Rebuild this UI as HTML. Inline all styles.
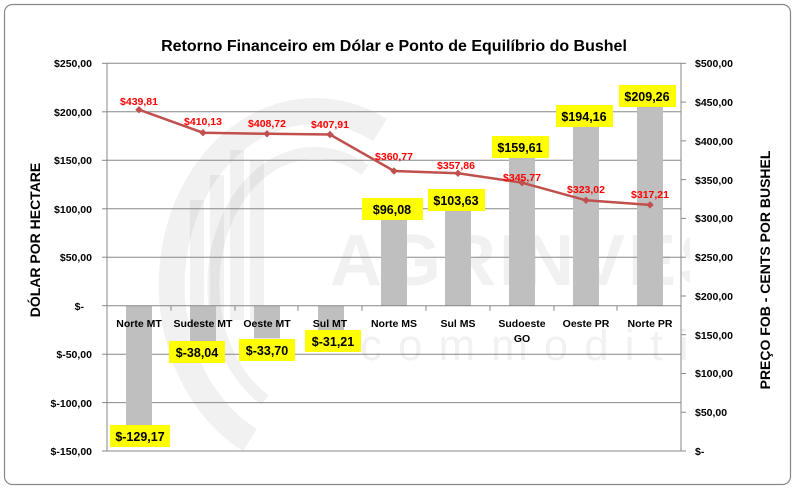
<!DOCTYPE html>
<html><head><meta charset="utf-8"><style>
html,body{margin:0;padding:0;background:#fff;}
svg{display:block;font-family:"Liberation Sans",Calibri,sans-serif;}
</style></head><body>
<svg width="799" height="491" viewBox="0 0 799 491" xmlns="http://www.w3.org/2000/svg">
<defs><clipPath id="c"><rect x="100" y="60" width="590" height="400"/></clipPath></defs>
<rect x="0" y="0" width="799" height="491" fill="#fff"/>
<rect x="4.5" y="4.5" width="786" height="480" rx="8" fill="#fff" stroke="#888" stroke-width="1.2"/>
<!-- watermark -->
<g clip-path="url(#c)">
<g opacity="0.08" fill="none" stroke="#555">
<path d="M250 440 A140 170 0 1 1 380 130" stroke-width="26"/>
<path d="M265 400 A100 130 0 1 1 365 170" stroke-width="12"/>
</g>
<g opacity="0.08" fill="#555">
<rect x="190" y="200" width="14" height="120"/><rect x="210" y="175" width="14" height="145"/>
<rect x="230" y="150" width="14" height="170"/><rect x="250" y="160" width="14" height="160"/>
<text x="330" y="285" font-size="72" font-weight="bold" letter-spacing="3">AGRINVEST</text>
<text x="360" y="360" font-size="44" letter-spacing="16">commodities</text>
</g>
</g>
<!-- title -->
<text x="394" y="51" font-size="16" font-weight="bold" text-anchor="middle" fill="#000">Retorno Financeiro em Dólar e Ponto de Equilíbrio do Bushel</text>
<!-- gridlines -->
<g stroke="#888" stroke-width="1">
<line x1="107" y1="63.3" x2="681" y2="63.3"/>
<line x1="107" y1="111.8" x2="681" y2="111.8"/>
<line x1="107" y1="160.3" x2="681" y2="160.3"/>
<line x1="107" y1="208.8" x2="681" y2="208.8"/>
<line x1="107" y1="257.2" x2="681" y2="257.2"/>
<line x1="107" y1="354.2" x2="681" y2="354.2"/>
<line x1="107" y1="402.6" x2="681" y2="402.6"/>
<line x1="107" y1="451" x2="681" y2="451"/>
</g>
<!-- bars -->
<g fill="#bfbfbf">
<rect x="126" y="305.7" width="26" height="125.3"/>
<rect x="190" y="305.7" width="26" height="36.9"/>
<rect x="254" y="305.7" width="26" height="32.7"/>
<rect x="318" y="305.7" width="26" height="30.3"/>
<rect x="381" y="212.5" width="26" height="93.2"/>
<rect x="445" y="205.2" width="26" height="100.5"/>
<rect x="509" y="150.9" width="26" height="154.8"/>
<rect x="573" y="117.4" width="26" height="188.3"/>
<rect x="637" y="102.7" width="26" height="203"/>
</g>
<!-- axes -->
<g stroke="#888" stroke-width="1">
<line x1="107" y1="63.3" x2="107" y2="451"/>
<line x1="681" y1="63.3" x2="681" y2="451"/>
<line x1="107" y1="305.7" x2="681" y2="305.7"/>
<line x1="102" y1="63.3" x2="107" y2="63.3"/><line x1="102" y1="111.8" x2="107" y2="111.8"/>
<line x1="102" y1="160.3" x2="107" y2="160.3"/><line x1="102" y1="208.8" x2="107" y2="208.8"/>
<line x1="102" y1="257.2" x2="107" y2="257.2"/><line x1="102" y1="305.7" x2="107" y2="305.7"/>
<line x1="102" y1="354.2" x2="107" y2="354.2"/><line x1="102" y1="402.6" x2="107" y2="402.6"/>
<line x1="102" y1="451" x2="107" y2="451"/>
<line x1="681" y1="63.3" x2="686" y2="63.3"/><line x1="681" y1="102.1" x2="686" y2="102.1"/>
<line x1="681" y1="140.9" x2="686" y2="140.9"/><line x1="681" y1="179.6" x2="686" y2="179.6"/>
<line x1="681" y1="218.4" x2="686" y2="218.4"/><line x1="681" y1="257.2" x2="686" y2="257.2"/>
<line x1="681" y1="296" x2="686" y2="296"/><line x1="681" y1="334.7" x2="686" y2="334.7"/>
<line x1="681" y1="373.5" x2="686" y2="373.5"/><line x1="681" y1="412.2" x2="686" y2="412.2"/>
<line x1="681" y1="451" x2="686" y2="451"/>
<line x1="171" y1="305.7" x2="171" y2="310.7"/><line x1="235" y1="305.7" x2="235" y2="310.7"/>
<line x1="298" y1="305.7" x2="298" y2="310.7"/><line x1="362" y1="305.7" x2="362" y2="310.7"/>
<line x1="426" y1="305.7" x2="426" y2="310.7"/><line x1="490" y1="305.7" x2="490" y2="310.7"/>
<line x1="554" y1="305.7" x2="554" y2="310.7"/><line x1="617" y1="305.7" x2="617" y2="310.7"/>
</g>
<!-- left tick labels -->
<g font-size="10.5" font-weight="bold" text-anchor="end" fill="#000">
<text x="92" y="67">$250,00</text><text x="92" y="116">$200,00</text><text x="92" y="164">$150,00</text>
<text x="92" y="213">$100,00</text><text x="92" y="261">$50,00</text><text x="84" y="310">$-</text>
<text x="92" y="358">$-50,00</text><text x="92" y="407">$-100,00</text><text x="92" y="455">$-150,00</text>
</g>
<!-- right tick labels -->
<g font-size="10.5" font-weight="bold" fill="#000">
<text x="695" y="67">$500,00</text><text x="695" y="106">$450,00</text><text x="695" y="145">$400,00</text>
<text x="695" y="184">$350,00</text><text x="695" y="222">$300,00</text><text x="695" y="261">$250,00</text>
<text x="695" y="300">$200,00</text><text x="695" y="339">$150,00</text><text x="695" y="377">$100,00</text>
<text x="695" y="416">$50,00</text><text x="695" y="455">$-</text>
</g>
<!-- axis titles -->
<text transform="translate(40,240) rotate(-90)" font-size="14" font-weight="bold" text-anchor="middle">DÓLAR POR HECTARE</text>
<text transform="translate(770,270) rotate(-90)" font-size="14" font-weight="bold" text-anchor="middle">PREÇO FOB - CENTS POR BUSHEL</text>
<!-- category labels -->
<g font-size="10.5" font-weight="bold" text-anchor="middle">
<text x="139" y="327">Norte MT</text><text x="203" y="327">Sudeste MT</text><text x="267" y="327">Oeste MT</text>
<text x="330" y="327">Sul MT</text><text x="394" y="327">Norte MS</text><text x="458" y="327">Sul MS</text>
<text x="522" y="327">Sudoeste</text><text x="522" y="342">GO</text><text x="586" y="327">Oeste PR</text><text x="650" y="327">Norte PR</text>
</g>
<!-- line -->
<polyline fill="none" stroke="#c0504d" stroke-width="2.5" points="139,109.7 203,132.7 267,133.8 330,134.5 394,171 458,173.3 522,182.7 586,200.3 650,204.9"/>
<g fill="#c0504d">
<path d="M139 106l3.7 3.7-3.7 3.7-3.7-3.7z"/><path d="M203 129l3.7 3.7-3.7 3.7-3.7-3.7z"/>
<path d="M267 130.1l3.7 3.7-3.7 3.7-3.7-3.7z"/><path d="M330 130.8l3.7 3.7-3.7 3.7-3.7-3.7z"/>
<path d="M394 167.3l3.7 3.7-3.7 3.7-3.7-3.7z"/><path d="M458 169.6l3.7 3.7-3.7 3.7-3.7-3.7z"/>
<path d="M522 179l3.7 3.7-3.7 3.7-3.7-3.7z"/><path d="M586 196.6l3.7 3.7-3.7 3.7-3.7-3.7z"/>
<path d="M650 201.2l3.7 3.7-3.7 3.7-3.7-3.7z"/>
</g>
<g font-size="10.5" font-weight="bold" fill="#ff0000" text-anchor="middle">
<text x="139" y="105">$439,81</text><text x="203" y="125">$410,13</text><text x="267" y="127">$408,72</text>
<text x="330" y="128">$407,91</text><text x="394" y="160">$360,77</text><text x="456" y="169">$357,86</text>
<text x="522" y="181">$345,77</text><text x="586" y="193">$323,02</text><text x="650" y="198">$317,21</text>
</g>
<!-- data label boxes -->
<g fill="#ffff00">
<rect x="110" y="425" width="60" height="22"/><rect x="169" y="341" width="56" height="22"/>
<rect x="239" y="339" width="56" height="22"/><rect x="305" y="330" width="56" height="22"/>
<rect x="362" y="198" width="61" height="22"/><rect x="428" y="189" width="57" height="22"/>
<rect x="492" y="136" width="57" height="22"/><rect x="556" y="105" width="57" height="22"/>
<rect x="619" y="85" width="57" height="22"/>
</g>
<g font-size="12.5" font-weight="bold" text-anchor="middle" fill="#000">
<text x="140" y="441">$-129,17</text><text x="197" y="357">$-38,04</text><text x="267" y="355">$-33,70</text>
<text x="333" y="346">$-31,21</text><text x="392" y="214">$96,08</text><text x="456" y="205">$103,63</text>
<text x="520" y="152">$159,61</text><text x="584" y="121">$194,16</text><text x="647" y="101">$209,26</text>
</g>
</svg>
</body></html>
